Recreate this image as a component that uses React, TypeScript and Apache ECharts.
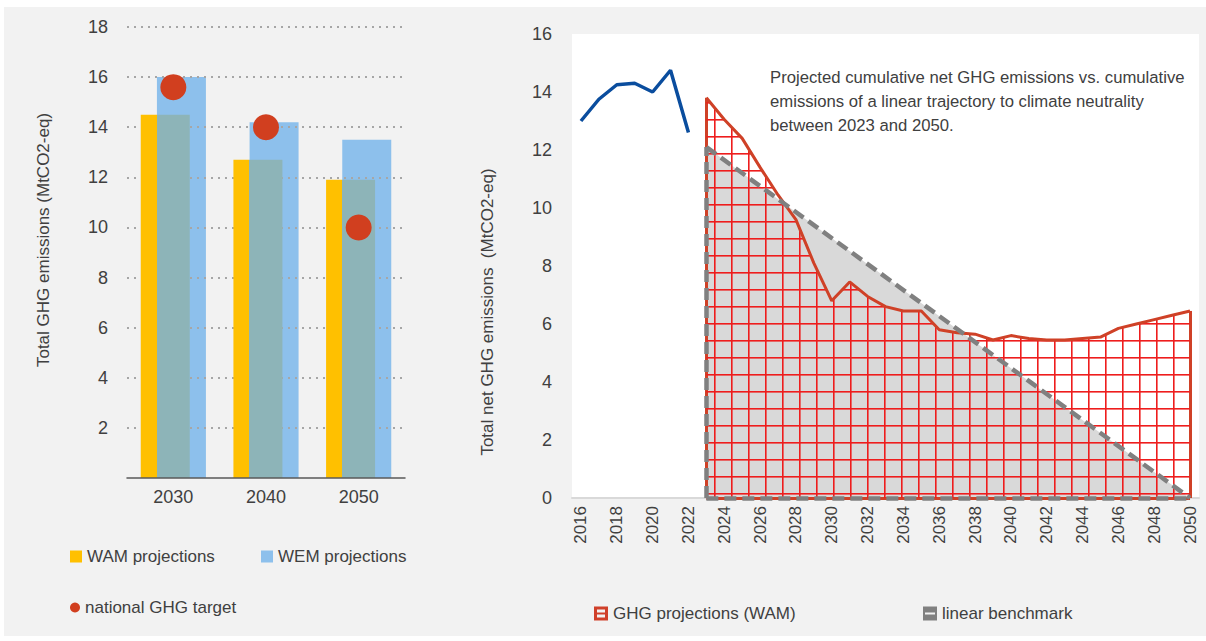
import React, { useEffect, useRef } from "react";
import * as echarts from "echarts";

// ---- Left chart data ----
const barCategories = ["2030", "2040", "2050"];
const wamProjections = [14.5, 12.7, 11.9];
const wemProjections = [16.0, 14.2, 13.5];
const nationalTargets = [15.6, 14.0, 10.0];

// ---- Right chart data ----
const years = [
  "2016", "2017", "2018", "2019", "2020", "2021", "2022", "2023", "2024", "2025",
  "2026", "2027", "2028", "2029", "2030", "2031", "2032", "2033", "2034", "2035",
  "2036", "2037", "2038", "2039", "2040", "2041", "2042", "2043", "2044", "2045",
  "2046", "2047", "2048", "2049", "2050",
];
const historicalYears = ["2016", "2017", "2018", "2019", "2020", "2021", "2022"];
const historicalNet = [13.0, 13.75, 14.25, 14.3, 14.0, 14.75, 12.6];
const projectionYears = [
  "2023", "2024", "2025", "2026", "2027", "2028", "2029", "2030", "2031", "2032",
  "2033", "2034", "2035", "2036", "2037", "2038", "2039", "2040", "2041", "2042",
  "2043", "2044", "2045", "2046", "2047", "2048", "2049", "2050",
];
const wamNet = [
  13.8, 13.05, 12.4, 11.4, 10.45, 9.6, 8.1, 6.8, 7.45, 6.95,
  6.6, 6.45, 6.45, 5.8, 5.7, 5.65, 5.45, 5.6, 5.5, 5.45,
  5.45, 5.5, 5.55, 5.85, 6.0, 6.15, 6.3, 6.45,
];
const benchmarkYears = ["2023", "2050"];
const benchmarkNet = [12.1, 0];

const FONT = "'Liberation Sans', Arial, sans-serif";
const TEXT = "#404040";

function alignTo(keys: string[], vals: number[]) {
  return years.map((y) => {
    const i = keys.indexOf(y);
    return i >= 0 ? vals[i] : null;
  });
}

export default function App() {
  const ref = useRef<HTMLDivElement>(null);

  useEffect(() => {
    if (!ref.current) return;
    const chart = echarts.init(ref.current, undefined, { renderer: "svg" });

    // red grid hatch pattern
    const cell = 17;
    const cv = document.createElement("canvas");
    cv.width = cell;
    cv.height = cell;
    const ctx = cv.getContext("2d")!;
    ctx.fillStyle = "#ee1d1d";
    ctx.fillRect(0, 0, 1.6, cell);
    ctx.fillRect(0, 0, cell, 1.6);
    const hatch: any = {
      image: cv,
      repeat: "repeat",
      imageWidth: cell,
      imageHeight: cell,
      x: 0,
      y: -1,
    };

    const histData = alignTo(historicalYears, historicalNet);
    const wamData = alignTo(projectionYears, wamNet);
    const benchData = alignTo(benchmarkYears, benchmarkNet);
    const i0 = years.indexOf(projectionYears[0]);
    const i1 = years.indexOf(projectionYears[projectionYears.length - 1]);
    const b0 = years.indexOf(benchmarkYears[0]);
    const b1 = years.indexOf(benchmarkYears[1]);

    const wamGradient = new echarts.graphic.LinearGradient(0, 0, 1, 0, [
      { offset: 0, color: "#ffc000" },
      { offset: 0.327, color: "#ffc000" },
      { offset: 0.327, color: "#8db4b8" },
      { offset: 1, color: "#8db4b8" },
    ]);

    const legendText = { fontSize: 17, color: TEXT, fontFamily: FONT };

    chart.setOption({
      animation: false,
      textStyle: { fontFamily: FONT, color: TEXT },
      grid: [
        { left: 127, right: 801, top: 27, bottom: 163 },
        { left: 572, right: 7, top: 34, bottom: 143, show: true, backgroundColor: "#ffffff", borderWidth: 0 },
      ],
      xAxis: [
        {
          type: "category",
          gridIndex: 0,
          data: barCategories,
          z: 8,
          axisTick: { show: false },
          axisLine: { lineStyle: { color: "#595959", width: 1.5 } },
          axisLabel: { fontSize: 18, color: TEXT, margin: 10 },
        },
        {
          type: "category",
          gridIndex: 1,
          data: years,
          boundaryGap: true,
          axisTick: { show: false },
          axisLine: { lineStyle: { color: "#d9d9d9", width: 2 } },
          axisLabel: { rotate: 90, interval: 1, fontSize: 17, color: TEXT, margin: 8 },
        },
      ],
      yAxis: [
        {
          type: "value",
          gridIndex: 0,
          min: 0,
          max: 18,
          interval: 2,
          z: 2,
          axisLine: { show: false },
          axisTick: { show: false },
          axisLabel: {
            fontSize: 18,
            color: TEXT,
            margin: 19,
            formatter: (v: number) => (v === 0 ? "" : String(v)),
          },
          splitLine: { showMinLine: false, lineStyle: { color: "#a6a6a6", width: 2, type: [2, 5] } },
          name: "Total GHG emissions (MtCO2-eq)",
          nameLocation: "middle",
          nameGap: 75,
          nameTextStyle: { fontSize: 17, color: TEXT, padding: [0, 0, 0, 25] },
        },
        {
          type: "value",
          gridIndex: 1,
          min: 0,
          max: 16,
          interval: 2,
          axisLine: { show: false },
          axisTick: { show: false },
          splitLine: { show: false },
          axisLabel: { fontSize: 18, color: TEXT, margin: 20 },
          name: "Total net GHG emissions  (MtCO2-eq)",
          nameLocation: "middle",
          nameGap: 76,
          nameTextStyle: { fontSize: 17, color: TEXT, padding: [0, 92, 0, 0] },
        },
      ],
      legend: [
        {
          left: 65, top: 543, itemWidth: 12, itemHeight: 12, itemGap: 4, selectedMode: false,
          textStyle: legendText,
          data: [{ name: "WAM projections", icon: "rect", itemStyle: { color: "#ffc000" } }],
        },
        {
          left: 256, top: 543, itemWidth: 12, itemHeight: 12, selectedMode: false,
          textStyle: legendText,
          data: [{ name: "WEM projections", icon: "rect", itemStyle: { color: "#8dc0ec" } }],
        },
        {
          left: 65, top: 594, itemWidth: 10, itemHeight: 10, selectedMode: false,
          textStyle: legendText,
          data: [{ name: "national GHG target", icon: "circle", itemStyle: { color: "#d13f1f" } }],
        },
        {
          left: 589, top: 600, itemWidth: 14, itemHeight: 14, selectedMode: false,
          textStyle: legendText,
          data: [
            {
              name: "GHG projections (WAM)",
              icon: "path://M0,0H14V14H0Z M3,3V6H11V3Z M3,8V11H11V8Z",
              itemStyle: { color: "#d0402a" },
            },
          ],
        },
        {
          left: 918, top: 600, itemWidth: 14, itemHeight: 14, selectedMode: false,
          textStyle: legendText,
          data: [
            {
              name: "linear benchmark",
              icon: "path://M0,0H14V14H0Z M2,6V8H12V6Z",
              itemStyle: { color: "#808080" },
            },
          ],
        },
      ],
      graphic: [
        {
          type: "text",
          left: 770,
          top: 65,
          style: {
            text:
              "Projected cumulative net GHG emissions vs. cumulative\nemissions of a linear trajectory to climate neutrality\nbetween 2023 and 2050.",
            font: `16.7px ${FONT}`,
            fill: TEXT,
            lineHeight: 24,
          },
        },
      ],
      series: [
        {
          name: "WAM projections",
          type: "bar",
          xAxisIndex: 0,
          yAxisIndex: 0,
          data: wamProjections,
          barWidth: 49,
          barGap: "-67%",
          z: 5,
          itemStyle: { color: wamGradient },
        },
        {
          name: "WEM projections",
          type: "bar",
          xAxisIndex: 0,
          yAxisIndex: 0,
          data: wemProjections,
          barWidth: 49,
          barGap: "-67%",
          z: 1,
          itemStyle: { color: "#8dc0ec" },
        },
        {
          name: "national GHG target",
          type: "scatter",
          xAxisIndex: 0,
          yAxisIndex: 0,
          data: nationalTargets,
          symbolSize: 26,
          z: 6,
          itemStyle: { color: "#d13f1f", opacity: 1 },
        },
        {
          name: "linear benchmark",
          type: "line",
          xAxisIndex: 1,
          yAxisIndex: 1,
          data: benchData,
          connectNulls: true,
          symbol: "none",
          lineStyle: { width: 0 },
          itemStyle: { color: "#808080" },
          areaStyle: { color: "#d9d9d9", opacity: 1 },
          z: 2,
        },
        {
          name: "GHG projections (WAM)",
          type: "line",
          xAxisIndex: 1,
          yAxisIndex: 1,
          data: wamData,
          symbol: "none",
          lineStyle: { color: "#cf4127", width: 3 },
          itemStyle: { color: "#cf4127" },
          areaStyle: { color: hatch, opacity: 1 },
          z: 3,
          markLine: {
            silent: true,
            z: 3,
            symbol: ["none", "none"],
            label: { show: false },
            lineStyle: { color: "#cf4127", width: 3, type: "solid" },
            data: [
              [{ coord: [i0, 0] }, { coord: [i0, wamNet[0]] }],
              [{ coord: [i1, 0] }, { coord: [i1, wamNet[wamNet.length - 1]] }],
              [{ coord: [i0, 0] }, { coord: [i1, 0] }],
            ],
          },
        },
        {
          name: "benchmark outline",
          type: "line",
          xAxisIndex: 1,
          yAxisIndex: 1,
          data: benchData,
          connectNulls: true,
          symbol: "none",
          silent: true,
          lineStyle: { color: "#808080", width: 4.5, type: [12, 6] },
          z: 4,
          markLine: {
            silent: true,
            z: 5,
            symbol: ["none", "none"],
            label: { show: false },
            lineStyle: { color: "#808080", width: 4.5, type: [12, 6] },
            data: [
              [{ coord: [b0, 0] }, { coord: [b0, benchmarkNet[0]] }],
              [{ coord: [b0, 0] }, { coord: [b1, 0] }],
            ],
          },
        },
        {
          name: "historical",
          type: "line",
          xAxisIndex: 1,
          yAxisIndex: 1,
          data: histData,
          symbol: "none",
          lineStyle: { color: "#0a4d9e", width: 3.5 },
          itemStyle: { color: "#0a4d9e" },
          z: 4,
        },
      ],
    });

    return () => chart.dispose();
  }, []);

  return (
    <div style={{ position: "fixed", left: 0, top: 0, width: 1206, height: 641, background: "#ffffff" }}>
      <div style={{ position: "absolute", left: 4, top: 7, width: 1202, height: 629, background: "#f2f2f2" }} />
      <div ref={ref} style={{ position: "absolute", left: 0, top: 0, width: 1206, height: 641 }} />
    </div>
  );
}
